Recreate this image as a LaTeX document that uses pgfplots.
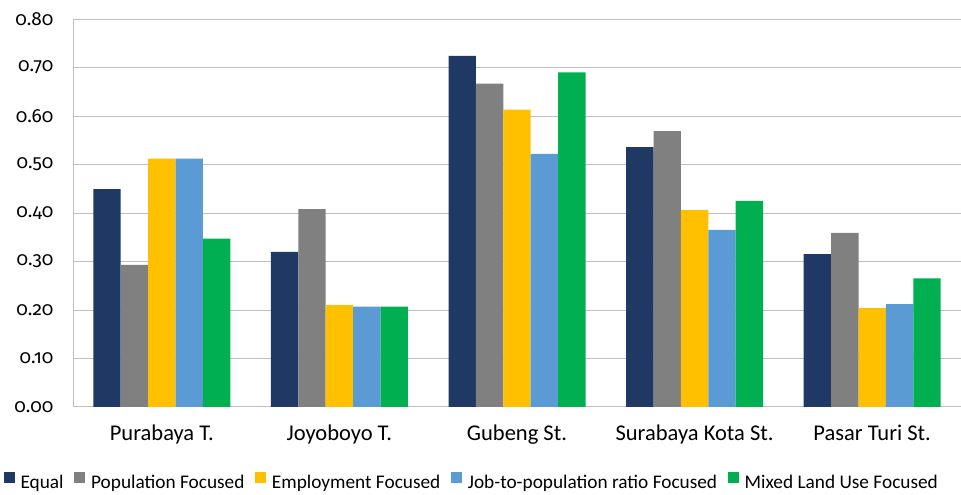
\documentclass[border=0pt]{standalone}
\usepackage{fontspec}
\setmainfont{Carlito}
\newfontfamily\tickfont{Fira Sans}[Numbers=OldStyle]
\usepackage{pgfplots}
\pgfplotsset{compat=1.18}
\definecolor{cEqual}{HTML}{203864}
\definecolor{cPop}{HTML}{808080}
\definecolor{cEmp}{HTML}{FFC000}
\definecolor{cJob}{HTML}{5B9BD5}
\definecolor{cMix}{HTML}{00B050}
\definecolor{gridc}{HTML}{BFBFBF}
\begin{document}
\begin{tikzpicture}[x=1pt,y=1pt]
\path[use as bounding box] (0,0) rectangle (961,495);
\begin{axis}[
  at={(73pt,88pt)}, anchor=south west,
  scale only axis, width=888pt, height=388pt,
  ybar=0pt, bar width=27.4pt,
  xmin=-0.5, xmax=4.5, ymin=0, ymax=0.8,
  ytick={0,0.1,...,0.8},
  xtick=data,
  xticklabels={Purabaya T.,Joyoboyo T.,Gubeng St.,Surabaya Kota St.,Pasar Turi St.},
  major tick length=0pt,
  ymajorgrids, grid style={gridc, line width=1pt},
  axis x line*=bottom, axis y line*=left,
  axis line style={gridc, line width=1pt},
  separate axis lines,
  x axis line style={-}, y axis line style={-},
  /pgf/number format/assume math mode=true,
  yticklabel style={/pgf/number format/fixed, /pgf/number format/fixed zerofill, /pgf/number format/precision=2, font=\tickfont\fontsize{19}{21}\selectfont, anchor=east, xshift=-16pt},
  scaled y ticks=false,
  xticklabel style={font=\fontsize{22.5}{25}\selectfont, anchor=base, yshift=-34pt},
  legend style={at={(0.449,-0.193)}, anchor=center, draw=none, fill=none, font=\fontsize{19.3}{22}\selectfont, legend columns=5, /tikz/every even column/.append style={column sep=8.5pt}},
  legend image code/.code={\fill[#1] (0pt,0pt) rectangle (11pt,11pt); \path (0pt,0pt) (15pt,0pt);},
  every axis plot/.append style={draw=none},
]
\addplot[fill=cEqual] coordinates {(0,0.449) (1,0.320) (2,0.724) (3,0.536) (4,0.315)};
\addplot[fill=cPop] coordinates {(0,0.293) (1,0.408) (2,0.667) (3,0.569) (4,0.359)};
\addplot[fill=cEmp] coordinates {(0,0.512) (1,0.210) (2,0.613) (3,0.406) (4,0.204)};
\addplot[fill=cJob] coordinates {(0,0.512) (1,0.207) (2,0.522) (3,0.365) (4,0.212)};
\addplot[fill=cMix] coordinates {(0,0.347) (1,0.207) (2,0.690) (3,0.425) (4,0.265)};
\legend{Equal,Population Focused,Employment Focused,Job-to-population ratio Focused,Mixed Land Use Focused}
\end{axis}
\end{tikzpicture}
\end{document}
